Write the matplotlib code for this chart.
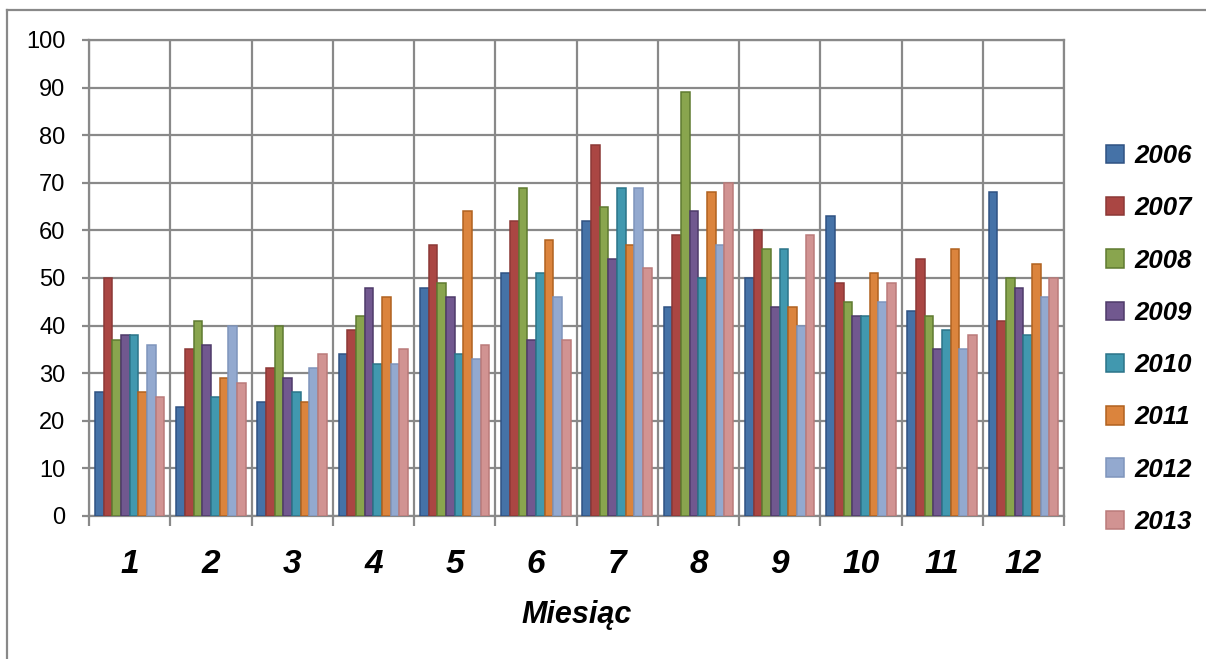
import matplotlib
matplotlib.use("Agg")
import matplotlib.pyplot as plt
from matplotlib.lines import Line2D
import numpy as np

months = ["1", "2", "3", "4", "5", "6", "7", "8", "9", "10", "11", "12"]
years = ["2006", "2007", "2008", "2009", "2010", "2011", "2012", "2013"]

v2006 = [26, 23, 24, 34, 48, 51, 62, 44, 50, 63, 43, 68]
v2007 = [50, 35, 31, 39, 57, 62, 78, 59, 60, 49, 54, 41]
v2008 = [37, 41, 40, 42, 49, 69, 65, 89, 56, 45, 42, 50]
v2009 = [38, 36, 29, 48, 46, 37, 54, 64, 44, 42, 35, 48]
v2010 = [38, 25, 26, 32, 34, 51, 69, 50, 56, 42, 39, 38]
v2011 = [26, 29, 24, 46, 64, 58, 57, 68, 44, 51, 56, 53]
v2012 = [36, 40, 31, 32, 33, 46, 69, 57, 40, 45, 35, 46]
v2013 = [25, 28, 34, 35, 36, 37, 52, 70, 59, 49, 38, 50]
series = [v2006, v2007, v2008, v2009, v2010, v2011, v2012, v2013]

fills = ["#4572A7", "#AA4643", "#89A54E", "#71588F", "#4198AF", "#DB843D", "#93A9CF", "#D19392"]
edges = ["#2F5283", "#8C3836", "#5F7A30", "#4E3A6A", "#2B7489", "#B0621F", "#7F95BC", "#BA7B7A"]

FAM = ["Liberation Sans", "DejaVu Sans"]

fig = plt.figure(figsize=(12.06, 6.59), dpi=100)
W, H = 1206, 659
ax = fig.add_axes([89 / W, 1 - 516 / H, (1064 - 89) / W, (516 - 40) / H])

x = np.arange(1, len(months) + 1)
bw = 0.1066
n = len(series)
for i, (vals, fc, ec, lab) in enumerate(zip(series, fills, edges, years)):
    off = (i - (n - 1) / 2) * bw
    ax.bar(x + off, vals, width=bw, color=fc, edgecolor=ec, linewidth=1.1,
           label=lab, zorder=3)

grid_c = "#898989"
ax.set_xlim(0.5, 12.5)
ax.set_ylim(0, 100)
ax.set_yticks(np.arange(0, 101, 10))
ax.set_xticks(x)
ax.set_xticklabels(months)
ax.set_xticks(np.arange(0.5, 12.6, 1), minor=True)
ax.grid(True, which="major", axis="y", color=grid_c, linewidth=1.6, zorder=0)
ax.grid(True, which="minor", axis="x", color=grid_c, linewidth=1.6, zorder=0)
ax.grid(False, which="major", axis="x")
for s in ax.spines.values():
    s.set_color(grid_c)
    s.set_linewidth(1.6)

ax.tick_params(axis="y", which="major", length=5, width=1.6, color=grid_c,
               pad=12, labelsize=17)
ax.tick_params(axis="x", which="major", length=0, pad=24)
ax.tick_params(axis="x", which="minor", length=7, width=1.6, color=grid_c)
for t in ax.get_yticklabels():
    t.set_fontfamily(FAM)
for t in ax.get_xticklabels():
    t.set_fontfamily(FAM)
    t.set_fontsize(24)
    t.set_fontweight("bold")
    t.set_fontstyle("italic")

ax.set_xlabel("Miesiąc", fontsize=22, fontweight="bold", fontstyle="italic",
              family=FAM, labelpad=14)

leg = ax.legend(loc="center left", bbox_to_anchor=(1.043, 0.372), frameon=False,
                prop={"family": FAM, "size": 18.5, "weight": "bold", "style": "italic"},
                handlelength=0.72, handleheight=0.72, handletextpad=0.4,
                labelspacing=1.1, borderaxespad=0, borderpad=0)

# outer chart frame (left and top edges visible)
fig.add_artist(Line2D([7 / W, 7 / W], [0, 1 - 10 / H], transform=fig.transFigure,
                      color=grid_c, linewidth=1.6))
fig.add_artist(Line2D([7 / W, 1], [1 - 10 / H, 1 - 10 / H], transform=fig.transFigure,
                      color=grid_c, linewidth=1.6))

fig.savefig("out.png", dpi=100, facecolor="white")
